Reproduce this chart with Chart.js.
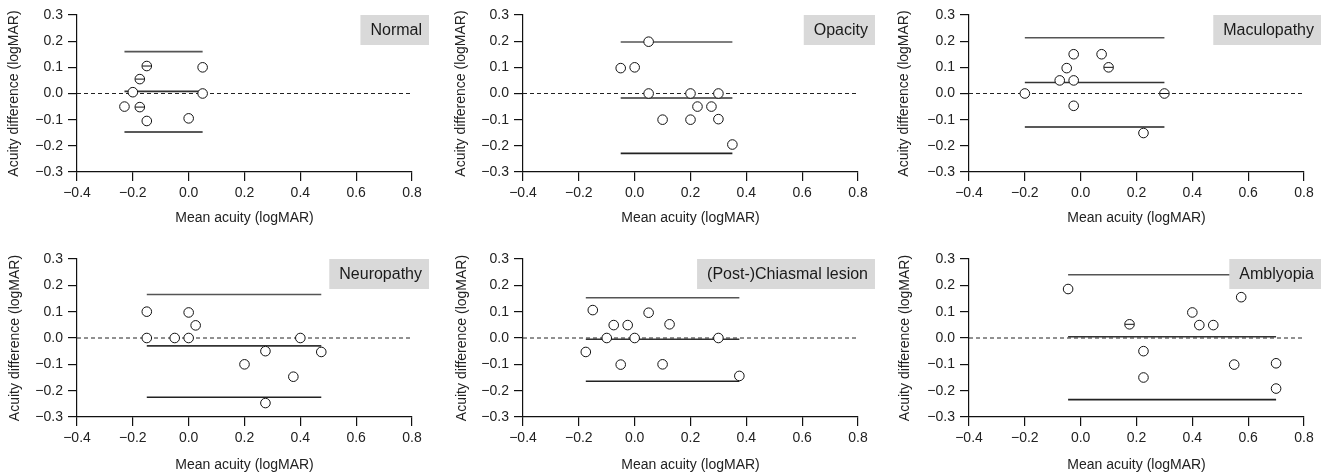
<!DOCTYPE html>
<html>
<head>
<meta charset="utf-8">
<script src="https://cdn.jsdelivr.net/npm/chart.js@4.4.1/dist/chart.umd.min.js"></script>
<style>
  body { margin: 0; background: #fff; }
  #wrap { position: relative; width: 1329px; height: 475px; }
  canvas { position: absolute; }
</style>
</head>
<body>
<div id="wrap">
  <canvas id="p0" width="443" height="237" style="left:0;top:0"></canvas>
  <canvas id="p1" width="443" height="237" style="left:443px;top:0"></canvas>
  <canvas id="p2" width="443" height="237" style="left:886px;top:0"></canvas>
  <canvas id="p3" width="443" height="238" style="left:0;top:237px"></canvas>
  <canvas id="p4" width="443" height="238" style="left:443px;top:237px"></canvas>
  <canvas id="p5" width="443" height="238" style="left:886px;top:237px"></canvas>
</div>
<script>
// axis ranges
const xRange = [-0.4, 0.8];
const yRange = [-0.3, 0.3];

// Normal
const normalX = [-0.15, -0.175, 0.05, -0.2, 0.05, -0.23, -0.175, -0.15, 0.0];
const normalY = [0.105, 0.055, 0.1, 0.005, 0.0, -0.05, -0.052, -0.105, -0.095];
const normalLimits = [0.16, 0.008, -0.147];   // upper, mean, lower
const normalSpan = [-0.23, 0.05];
const normalTied = [0, 1, 6];

// Opacity
const opacityX = [0.05, -0.05, 0.0, 0.05, 0.2, 0.3, 0.225, 0.275, 0.1, 0.2, 0.3, 0.35];
const opacityY = [0.198, 0.097, 0.1, 0.0, 0.0, 0.0, -0.05, -0.05, -0.1, -0.1, -0.098, -0.195];
const opacityLimits = [0.197, -0.017, -0.229];
const opacitySpan = [-0.05, 0.35];
const opacityTied = [];

// Maculopathy
const maculoX = [-0.025, 0.075, -0.05, 0.1, -0.075, -0.025, -0.2, 0.3, -0.025, 0.225];
const maculoY = [0.15, 0.15, 0.097, 0.1, 0.05, 0.05, 0.0, 0.0, -0.047, -0.151];
const maculoLimits = [0.213, 0.042, -0.128];
const maculoSpan = [-0.2, 0.3];
const maculoTied = [3, 7];

// Neuropathy
const neuroX = [-0.15, 0.0, 0.025, -0.15, -0.05, 0.0, 0.4, 0.275, 0.475, 0.2, 0.375, 0.275];
const neuroY = [0.1, 0.097, 0.048, 0.0, 0.0, 0.0, 0.0, -0.05, -0.053, -0.1, -0.147, -0.247];
const neuroLimits = [0.165, -0.03, -0.225];
const neuroSpan = [-0.15, 0.475];
const neuroTied = [];

// (Post-)Chiasmal lesion
const chiasmX = [-0.15, 0.05, -0.075, -0.025, 0.125, -0.1, 0.0, 0.3, -0.175, -0.05, 0.1, 0.375];
const chiasmY = [0.106, 0.096, 0.049, 0.049, 0.052, 0.0, 0.0, 0.0, -0.053, -0.101, -0.1, -0.144];
const chiasmLimits = [0.153, -0.005, -0.164];
const chiasmSpan = [-0.175, 0.375];
const chiasmTied = [];

// Amblyopia
const amblyX = [-0.045, 0.575, 0.4, 0.425, 0.475, 0.175, 0.225, 0.55, 0.7, 0.225, 0.7];
const amblyY = [0.186, 0.155, 0.097, 0.049, 0.049, 0.052, -0.05, -0.101, -0.096, -0.15, -0.192];
const amblyLimits = [0.24, 0.005, -0.234];
const amblySpan = [-0.045, 0.7];
const amblyTied = [5];

const FONT = "'Liberation Sans', Arial, Helvetica, sans-serif";

const fmt = v => {
    const n = Math.abs(v) < 1e-9 ? 0 : v;
    return n.toFixed(1).replace('-', '\u2212');
};

const labelBox = {
    id: 'labelBox',
    afterDatasetsDraw(chart, args, opts) {
        const { ctx, chartArea } = chart;
        ctx.save();
        ctx.font = '16px ' + FONT;
        const tw = ctx.measureText(opts.text).width;
        const right = chartArea.right + 17;
        const top = chartArea.top;
        ctx.fillStyle = '#d9d9d9';
        ctx.fillRect(right - tw - 17, top, tw + 17, 30);
        ctx.fillStyle = '#1a1a1a';
        ctx.textAlign = 'right';
        ctx.textBaseline = 'middle';
        ctx.fillText(opts.text, right - 7, top + 16);
        ctx.restore();
    }
};

const createPanel = (id, name, xs, ys, limits, span, tied, lay) => {
    const pts = xs.map((x, i) => ({ x: x, y: ys[i] }));
    const limitLine = (v, color) => ({
        type: 'line',
        data: [{ x: span[0], y: v }, { x: span[1], y: v }],
        borderColor: color,
        borderWidth: 1.6,
        pointRadius: 0,
        showLine: true,
        order: 2
    });
    const ctx = document.getElementById(id).getContext('2d');
    new Chart(ctx, {
        type: 'scatter',
        data: {
            datasets: [
                {
                    data: tied.map(i => pts[i]),
                    pointStyle: 'line',
                    pointRadius: 4.5,
                    borderColor: '#111',
                    borderWidth: 1,
                    order: 0
                },
                {
                    data: pts,
                    pointStyle: 'circle',
                    pointRadius: 4.8,
                    backgroundColor: '#fff',
                    borderColor: '#111',
                    borderWidth: 1,
                    order: 1
                },
                limitLine(limits[0], '#555'),
                limitLine(limits[1], '#333'),
                limitLine(limits[2], '#222'),
                {
                    type: 'line',
                    data: [{ x: xRange[0], y: 0 }, { x: xRange[1], y: 0 }],
                    borderColor: '#222',
                    borderWidth: 1,
                    borderDash: [4, 3],
                    pointRadius: 0,
                    showLine: true,
                    order: 3
                }
            ]
        },
        options: {
            responsive: false,
            animation: false,
            layout: { padding: { top: lay.top, right: lay.right, left: 0, bottom: 0 } },
            plugins: {
                legend: { display: false },
                tooltip: { enabled: false },
                labelBox: { text: name }
            },
            scales: {
                x: {
                    type: 'linear',
                    min: xRange[0],
                    max: xRange[1],
                    afterFit: s => { s.height = lay.xh; },
                    border: { display: true, color: '#111', width: 1.2 },
                    grid: { drawOnChartArea: false, drawTicks: true, tickLength: 9, color: '#111', lineWidth: 1.2 },
                    ticks: { stepSize: 0.2, padding: 4, color: '#222', font: { family: FONT, size: 14 }, callback: fmt, maxRotation: 0 },
                    title: { display: true, text: 'Mean acuity (logMAR)', color: '#222', font: { family: FONT, size: 14 }, padding: { top: 0, bottom: lay.xt } }
                },
                y: {
                    type: 'linear',
                    min: yRange[0],
                    max: yRange[1],
                    afterFit: s => { s.width = lay.yw; },
                    border: { display: true, color: '#111', width: 1.2 },
                    grid: { drawOnChartArea: false, drawTicks: true, tickLength: 9, color: '#111', lineWidth: 1.2 },
                    ticks: { stepSize: 0.1, padding: 5, color: '#222', font: { family: FONT, size: 14 }, callback: fmt },
                    title: { display: true, text: 'Acuity difference (logMAR)', color: '#222', font: { family: FONT, size: 14 }, padding: { top: lay.yt, bottom: 0 } }
                }
            }
        },
        plugins: [labelBox]
    });
};

createPanel('p0', 'Normal', normalX, normalY, normalLimits, normalSpan, normalTied, { top: 15, right: 31, yw: 77, xh: 65, xt: 10.5, yt: 5.5 });
createPanel('p1', 'Opacity', opacityX, opacityY, opacityLimits, opacitySpan, opacityTied, { top: 15, right: 28, yw: 80, xh: 65, xt: 10.5, yt: 9.5 });
createPanel('p2', 'Maculopathy', maculoX, maculoY, maculoLimits, maculoSpan, maculoTied, { top: 15, right: 25, yw: 83, xh: 65, xt: 10.5, yt: 9.5 });
createPanel('p3', 'Neuropathy', neuroX, neuroY, neuroLimits, neuroSpan, neuroTied, { top: 22, right: 31, yw: 77, xh: 58, xt: 1.5, yt: 6.5 });
createPanel('p4', '(Post-)Chiasmal lesion', chiasmX, chiasmY, chiasmLimits, chiasmSpan, chiasmTied, { top: 22, right: 28, yw: 80, xh: 58, xt: 1.5, yt: 10.5 });
createPanel('p5', 'Amblyopia', amblyX, amblyY, amblyLimits, amblySpan, amblyTied, { top: 22, right: 25, yw: 83, xh: 58, xt: 1.5, yt: 10.5 });
</script>
</body>
</html>
